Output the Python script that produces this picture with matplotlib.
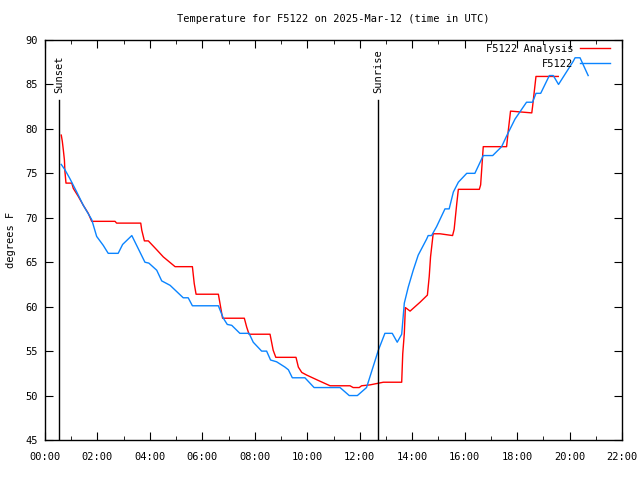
import matplotlib
matplotlib.use("Agg")
import matplotlib.pyplot as plt
from matplotlib.ticker import MultipleLocator, FuncFormatter

# observations (hours UTC, deg F)
obs_h = [0.62, 0.76, 0.95, 1.21, 1.46, 1.78, 1.97, 2.22, 2.41, 2.79, 2.96, 3.31,
         3.81, 3.96, 4.26, 4.45, 4.77, 5.02, 5.27, 5.46, 5.62, 6.61, 6.80, 6.95,
         7.12, 7.43, 7.78, 7.94, 8.26, 8.45, 8.60, 8.83, 9.15, 9.28, 9.43, 9.91,
         10.26, 11.25, 11.60, 11.91, 12.26, 12.71, 12.96, 13.24, 13.43, 13.60,
         13.70, 13.85, 14.04, 14.23, 14.55, 14.61, 14.74, 14.93, 15.25, 15.41,
         15.57, 15.76, 16.08, 16.39, 16.71, 17.07, 17.41, 17.60, 17.92, 18.36,
         18.59, 18.72, 18.90, 19.23, 19.38, 19.58, 20.14, 20.21, 20.40, 20.71]
obs_t = [76.0, 75.4, 74.4, 72.9, 71.4, 69.8, 67.9, 66.9, 66.0, 66.0, 67.0, 68.0,
         65.0, 64.9, 64.1, 62.9, 62.4, 61.7, 61.0, 61.0, 60.1, 60.1, 58.7, 58.0,
         57.9, 57.0, 57.0, 56.0, 55.0, 55.0, 54.0, 53.8, 53.2, 52.9, 52.0, 52.0,
         50.9, 50.9, 50.0, 50.0, 50.9, 55.1, 57.0, 57.0, 56.0, 56.9,
         60.4, 62.2, 64.1, 65.8, 67.6, 68.0, 68.0, 69.0, 71.0, 71.0,
         72.9, 74.0, 75.0, 75.0, 77.0, 77.0, 78.0, 79.2, 81.1, 83.0,
         83.0, 84.0, 84.0, 86.0, 86.0, 85.0, 87.6, 88.0, 88.0, 86.0]

# analysis (hours UTC, deg F)
ana_h = [0.62, 0.66, 0.70, 0.74, 0.76, 0.80, 1.02, 1.08, 1.27, 1.46, 1.65, 1.78,
         2.67, 2.73, 3.65, 3.69, 3.79, 3.94, 4.26, 4.51, 4.96, 5.62, 5.69, 5.76,
         6.61, 6.67, 6.77, 7.60, 7.69, 7.78, 8.58, 8.70, 8.80, 9.57, 9.66, 9.79,
         9.98, 10.42, 10.87, 11.63, 11.75, 11.98, 12.07, 12.39, 12.90, 13.60,
         13.64, 13.70, 13.74, 13.92, 14.30, 14.58, 14.65, 14.70, 14.80, 15.06,
         15.54, 15.60, 15.70, 15.76, 16.56, 16.61, 16.71, 17.60, 17.66, 17.75,
         18.56, 18.59, 18.72, 19.57]
ana_t = [79.3, 78.6, 77.6, 76.5, 75.2, 73.9, 73.9, 73.3, 72.4, 71.4, 70.5, 69.6,
         69.6, 69.4, 69.4, 68.6, 67.4, 67.4, 66.4, 65.6, 64.5, 64.5, 62.6, 61.4,
         61.4, 60.4, 58.7, 58.7, 57.7, 56.9, 56.9, 55.1, 54.3, 54.3, 53.2, 52.6,
         52.3, 51.7, 51.1, 51.1, 50.9, 50.9, 51.1, 51.2, 51.5, 51.5,
         54.7, 57.0, 59.9, 59.5, 60.5, 61.3, 63.4, 65.6, 68.2, 68.2,
         68.0, 68.7, 71.6, 73.2, 73.2, 73.7, 78.0, 78.0, 79.7, 82.0,
         81.8, 82.5, 85.9, 85.9]

sunset_h = 0.53
sunrise_h = 12.70

plt.rcParams["font.family"] = ["DejaVu Sans Mono"]
plt.rcParams["font.size"] = 7

fig = plt.figure(figsize=(6.4, 4.8), dpi=100)
ax = fig.add_axes([45 / 640, 40 / 480, 577 / 640, 400 / 480])

ax.plot(ana_h, ana_t, color="#ff0000", lw=1, label="F5122 Analysis")
ax.plot(obs_h, obs_t, color="#0a84ff", lw=1, label="F5122")

for xh, name in [(sunset_h, "Sunset"), (sunrise_h, "Sunrise")]:
    ax.plot([xh, xh], [45, 83.3], color="black", lw=1)
    ax.text(xh, 84.0, name, rotation=90, ha="center", va="bottom", fontsize=7.5)

ax.set_xlim(0, 22)
ax.set_ylim(45, 90)
ax.xaxis.set_major_locator(MultipleLocator(2))
ax.xaxis.set_minor_locator(MultipleLocator(1))
ax.xaxis.set_major_formatter(FuncFormatter(lambda v, p: f"{int(v):02d}:00"))
ax.yaxis.set_major_locator(MultipleLocator(5))
ax.tick_params(which="both", direction="in", top=True, right=True, labelsize=7.5)
ax.tick_params(which="major", length=6)
ax.tick_params(which="minor", length=3)
ax.tick_params(axis="x", pad=9)
ax.tick_params(axis="y", pad=5)
for s in ax.spines.values():
    s.set_linewidth(1)

ax.set_ylabel("degrees F", fontsize=7.5, labelpad=7)
ax.set_title("Temperature for F5122 on 2025-Mar-12 (time in UTC)", fontsize=7.5, pad=13)

ax.legend(loc="upper right", frameon=False, fontsize=7.5, handlelength=2.9,
          markerfirst=False, borderpad=0, borderaxespad=0,
          bbox_to_anchor=((610 - 45) / 577, 1 - 4 / 400),
          labelspacing=0.45, handletextpad=0.6)

fig.savefig("out.png", dpi=100)
